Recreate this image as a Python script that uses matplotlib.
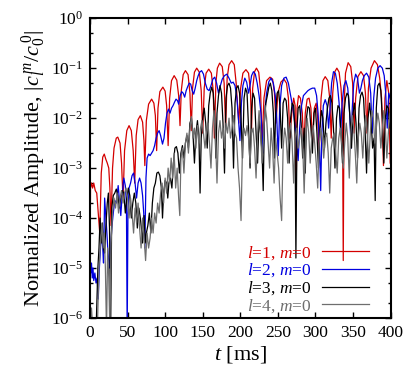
import numpy as np
import matplotlib
matplotlib.use("Agg")
import matplotlib.pyplot as plt
from matplotlib.ticker import LogLocator, FixedLocator, LogFormatterSciNotation

# ---------------- data (time in ms, log10 of normalized amplitude) ----------------
red_t = [0.0, 0.7, 2, 3.5, 5, 7, 9, 11, 13, 15, 17, 19, 21, 23, 25, 26.5, 28, 30, 32, 35, 37, 40, 42, 44,
         46, 49, 52, 55, 57.5, 59.5, 61.5, 64, 67, 70, 71.8, 73, 75, 78, 82, 85, 87, 88.7, 90.5, 93, 97, 100,
         102, 104, 106, 108.5, 112, 115.5, 118, 119.8, 121.5, 124, 127, 130.5, 133, 134.8, 136.5, 139, 142,
         145.5, 148, 150, 152, 154.5, 158, 161.5, 164, 165.5, 167.5, 169.5, 172.5, 176, 178.5, 180.5, 182.5,
         185, 188.5, 192, 194.5, 198, 200.5, 203.5, 207.5, 211, 213.5, 215, 216.5, 219, 221.5, 224.5, 227,
         229, 231.5, 235, 239.5, 243, 245.5, 247.5, 250, 254, 258, 261.5, 264, 266, 268.5, 271, 273, 274.2,
         275.5, 277.5, 280, 282.5, 284.5, 286.5, 289, 291.5, 294, 296, 298.5, 301, 303, 305, 307.5, 310, 313,
         316.5, 319, 321, 323, 325.5, 328.5, 331.5, 334, 336, 337, 338, 340, 343.5, 347, 349.5, 351.5, 353.5,
         356.5, 360.5, 364, 366.5, 368.5, 370.5, 374, 378.5, 382.5, 385.5, 388, 390.5, 392.5, 395, 397.5, 399.5]
red_log = [-4.9, -3.4, -3.3, -3.4, -3.3, -3.45, -3.5, -3.9, -4.3, -3.1, -2.78, -2.72, -2.82, -2.9, -3.0, -3.4,
           -4.15, -3.0, -2.6, -2.4, -2.38, -2.5, -2.9, -3.65, -2.65, -2.25, -2.15, -2.25, -2.65, -3.3, -2.35,
           -2.03, -1.95, -2.08, -2.45, -2.95, -2.05, -1.72, -1.62, -1.7, -1.95, -2.65, -1.8, -1.47, -1.38, -1.46,
           -1.75, -2.55, -1.6, -1.25, -1.15, -1.24, -1.55, -2.15, -1.45, -1.13, -1.05, -1.13, -1.5, -2.25, -1.4,
           -1.08, -1.0, -1.08, -1.45, -2.3, -1.4, -1.1, -1.02, -1.1, -1.45, -2.4, -1.3, -1.0, -0.9, -0.97, -1.3,
           -2.2, -1.2, -0.93, -0.85, -0.93, -1.3, -2.1, -1.4, -1.1, -1.03, -1.1, -1.45, -2.2, -1.4, -1.07, -1.0,
           -1.08, -1.45, -2.5, -1.6, -1.25, -1.18, -1.22, -1.5, -2.1, -1.5, -1.28, -1.22, -1.3, -1.6, -2.4, -1.9,
           -1.6, -1.75, -3.75, -1.8, -1.55, -1.6, -1.9, -2.6, -1.9, -1.62, -1.6, -1.8, -2.5, -1.8, -1.7, -2.0,
           -2.7, -1.6, -1.25, -1.17, -1.25, -1.6, -2.4, -1.5, -1.08, -1.0, -1.08, -1.4, -1.9, -4.85, -1.8, -1.1,
           -0.89, -0.97, -1.3, -2.3, -1.6, -1.17, -1.07, -1.15, -1.5, -2.3, -1.4, -1.0, -0.85, -0.93, -1.2, -1.6,
           -2.95, -1.6, -1.25, -1.5, -2.9]

blue_t = [0, 1, 2, 3, 4, 5, 6.5, 8, 9.5, 11, 12.5, 14, 15.5, 17, 18, 19.5, 21, 22.5, 24, 26, 27.5, 29, 31, 33,
          35, 37.5, 39.5, 41, 43, 45, 47, 48.5, 49.5, 50.5, 52, 54, 56, 58, 60, 62, 64, 66, 68, 70, 71.5, 73,
          74.5, 76, 78, 80, 82, 84, 86, 88, 90, 92, 94, 96.5, 98.5, 100.5, 102.5, 104.5, 106.5, 108.5, 110.5,
          112.5, 114.5, 116.5, 118, 120, 122, 124, 126, 128, 130, 132, 134, 136, 138, 140, 142, 144, 146, 148.5,
          151, 153.5, 156, 158.5, 161, 163.5, 166, 168.5, 171, 173.5, 176, 179, 182, 185, 188, 190.5, 193,
          195.5, 197.5, 199.5, 201.5, 203.5, 206, 208.5, 211, 213, 215, 217.5, 220, 222.5, 225, 227.5, 230.5,
          232.5, 235, 238, 241, 244, 246.5, 248.5, 250.5, 252.5, 255, 258, 261, 264, 267, 270, 272.5, 275, 277,
          279, 281.5, 284, 287, 290, 293, 296, 299, 301.5, 303.5, 305.5, 307, 308.5, 310.5, 313, 315.5, 317.5,
          319.5, 321.5, 324, 326.5, 329, 331.5, 333.5, 335.5, 338, 340.5, 343, 345.5, 347.5, 349, 351, 353.5,
          356, 358.5, 360.5, 362.5, 365, 368, 371, 373.5, 375.5, 377.5, 380, 383, 386, 389, 391.5, 393.5, 395.5,
          397.5, 400]
blue_log = [-4.95, -5.1, -4.9, -5.2, -5.0, -5.25, -5.1, -5.3, -5.2, -5.62, -5.0, -4.6, -4.3, -4.6, -4.9, -3.6,
            -3.95, -4.3, -4.7, -5.0, -4.6, -4.2, -3.9, -3.65, -3.7, -3.35, -3.7, -3.95, -3.5, -3.2, -3.35, -3.7,
            -6.3, -3.9, -3.4, -3.3, -3.15, -3.1, -3.3, -3.6, -3.3, -3.2, -3.3, -3.55, -3.9, -4.6, -3.2, -2.8,
            -2.72, -2.75, -2.7, -2.65, -2.55, -2.4, -2.3, -2.25, -2.35, -2.52, -2.4, -2.1, -1.9, -1.82, -1.9,
            -1.8, -1.75, -1.68, -1.62, -1.65, -1.72, -1.55, -1.47, -1.5, -1.58, -1.45, -1.37, -1.3, -1.32, -1.45,
            -1.52, -1.4, -1.25, -1.15, -1.08, -1.05, -1.12, -1.3, -1.42, -1.45, -1.35, -1.22, -1.18, -1.3, -1.5,
            -1.35, -1.22, -1.15, -1.12, -1.2, -1.3, -1.28, -1.35, -1.6, -2.0, -2.45, -1.7, -1.35, -1.2, -1.28,
            -1.5, -1.35, -1.15, -1.07, -1.12, -1.3, -1.55, -1.9, -2.7, -1.9, -1.5, -1.27, -1.2, -1.3, -1.55, -2.0,
            -2.75, -1.8, -1.35, -1.2, -1.18, -1.3, -1.55, -1.8, -2.1, -2.5, -2.85, -2.2, -1.75, -1.55, -1.5,
            -1.45, -1.42, -1.4, -1.4, -1.55, -1.9, -2.6, -3.45, -2.3, -1.75, -1.63, -1.75, -2.2, -1.8, -1.3,
            -1.07, -1.1, -1.3, -1.7, -2.3, -1.7, -1.35, -1.25, -1.4, -1.9, -2.6, -1.8, -1.3, -1.12, -1.2, -1.5,
            -1.4, -1.25, -1.15, -1.1, -1.18, -1.5, -2.3, -1.6, -1.2, -1.0, -0.95, -1.0, -1.15, -1.5, -2.2, -1.5,
            -1.63]

black_t = [0, 3, 6, 8, 10.5, 12, 13.5, 15, 16.5, 18, 19.5, 21, 23, 24.5, 26, 27.5, 29, 31, 33, 35, 37, 39,
           41, 43, 45, 47, 49, 51, 53, 55, 57, 59, 61, 63, 65, 67, 68.7, 70, 72, 73.5, 75, 77, 79, 81, 83, 85,
           87, 89, 91, 93, 95, 96.5, 98, 100, 102, 103.5, 105, 107, 109, 111, 113, 115, 117, 119, 121, 123,
           125, 127, 129, 131, 133, 135, 137, 139, 141, 143, 145, 146.5, 148, 150, 152, 154, 156, 158, 160,
           162, 164, 166, 167.5, 169, 171, 173, 175, 177, 179, 181, 183, 185, 187, 189, 191, 193, 195, 197,
           199, 201, 203, 205, 207, 209, 211, 213, 215, 217, 219, 221, 223, 225, 227, 229, 230.5, 232, 234,
           236, 238, 240, 242, 244, 245.5, 247, 249, 251, 253, 255, 257, 259, 261, 263, 265, 267, 269, 271,
           272.8, 274, 275.5, 277, 279, 281, 283, 285, 286.5, 288, 290, 292, 294, 296, 298, 300, 302, 304,
           306, 308, 310, 312, 314, 316, 318, 320, 322, 324, 326, 328, 330, 332, 334, 336, 338, 340, 342, 344,
           346, 348, 350, 352, 354, 356, 358, 360, 362, 364, 366, 368, 370, 372, 374, 376, 378, 379.5, 381,
           383, 385, 387, 389, 391, 393, 395, 397, 399, 400]
black_log = [-6.2, -6.3, -6.1, -6.3, -5.0, -4.6, -4.0, -4.5, -4.1, -4.6, -4.7, -4.2, -3.7, -3.5, -4.2, -6.2,
             -3.8, -3.55, -3.5, -3.42, -3.55, -3.8, -3.6, -3.45, -3.5, -3.9, -3.6, -3.4, -3.55, -4.0, -3.7,
             -3.5, -3.7, -4.2, -3.8, -4.0, -4.25, -4.5, -3.95, -4.5, -4.3, -4.15, -3.9, -4.3, -3.7, -3.4, -3.3,
             -3.1, -3.08, -3.15, -3.4, -4.0, -3.5, -3.25, -3.3, -3.6, -3.3, -3.2, -3.4, -2.9, -2.6, -2.57,
             -2.7, -3.1, -2.7, -2.55, -2.8, -2.5, -2.35, -2.6, -2.1, -2.0, -2.3, -2.9, -2.3, -2.05, -2.4, -3.5,
             -2.4, -2.0, -1.8, -2.1, -2.6, -1.75, -1.5, -1.38, -1.5, -2.0, -2.8, -1.9, -1.55, -1.35, -1.5,
             -2.1, -3.1, -1.6, -1.35, -1.3, -1.4, -1.8, -3.0, -1.7, -1.4, -1.35, -1.5, -2.0, -2.8, -1.6, -1.4,
             -1.5, -2.2, -3.0, -1.8, -1.5, -1.6, -2.3, -2.9, -2.0, -2.3, -2.7, -3.45, -2.1, -1.7, -1.55, -1.38,
             -1.3, -1.45, -1.9, -2.8, -1.9, -1.5, -1.45, -1.8, -2.6, -1.7, -1.6, -1.65, -2.0, -2.9, -2.0, -1.7,
             -1.75, -2.3, -4.8, -2.2, -1.8, -1.75, -2.1, -2.8, -2.2, -3.1, -2.0, -1.77, -1.8, -2.2, -2.7, -1.9,
             -1.8, -2.3, -3.0, -2.2, -1.85, -2.0, -2.6, -2.1, -1.8, -1.6, -1.55, -1.7, -2.2, -3.0, -2.0, -1.75,
             -1.8, -2.3, -2.9, -1.9, -1.6, -1.5, -1.55, -2.0, -2.6, -1.9, -1.7, -2.1, -2.8, -1.8, -1.55, -1.48,
             -1.6, -2.2, -3.1, -2.0, -1.7, -2.0, -2.6, -2.4, -3.65, -1.8, -1.35, -1.3, -1.45, -2.0, -2.9, -2.0,
             -1.75, -1.8, -2.2, -2.0]

gray_t = [0, 2, 4, 6, 8, 10, 12, 14, 16, 17.5, 19, 20.5, 22, 23.5, 25, 26.5, 28, 30, 32, 34, 36, 38, 40, 42,
          44, 46, 48, 50, 52, 54, 56, 58, 60, 62, 64, 66, 68, 70, 72, 74, 76, 78, 80, 82, 84, 86, 88, 90, 92,
          94, 96, 98, 100, 102, 104, 106, 108, 110, 112, 114, 116, 118, 119.5, 121, 123, 125, 127, 129, 131,
          133, 135, 137, 139, 141, 143, 145, 147, 149, 151, 153, 155, 157, 159, 161, 163, 165, 167, 169, 171,
          173, 175, 177, 179, 181, 183, 185, 187, 189, 191, 193, 195, 197, 199, 201, 203, 205, 207, 209, 211,
          213, 215, 217, 219, 221, 223, 225, 227, 229, 231, 233, 235, 237, 239, 241, 243, 245, 247, 249, 251,
          253, 255, 257, 259, 261, 263, 265, 267, 269, 271, 273, 275, 277, 279, 281, 283, 285, 287, 289, 291,
          293, 295, 297, 299, 301, 303, 305, 307, 309, 311, 313, 315, 317, 319, 321, 323, 325, 327, 329, 331,
          333, 335, 337, 339, 341, 343, 345, 347, 349, 351, 353, 355, 357, 359, 361, 363, 365, 367, 369, 371,
          373, 375, 377, 379, 381, 383, 385, 387, 389, 391, 393, 395, 397, 399, 400]
gray_log = [-6.3, -5.8, -6.3, -6.2, -6.3, -6.1, -5.0, -4.5, -4.1, -4.6, -4.3, -5.0, -6.3, -4.6, -5.2, -6.3,
            -4.5, -3.9, -3.6, -3.8, -3.5, -3.9, -3.6, -3.45, -3.7, -3.5, -3.4, -3.6, -4.0, -3.6, -3.9, -4.3,
            -3.8, -4.1, -3.7, -4.2, -4.6, -4.0, -4.4, -4.85, -4.3, -4.6, -4.4, -4.0, -4.3, -3.9, -4.1, -3.7,
            -3.9, -3.5, -3.3, -3.7, -3.2, -3.5, -3.0, -3.3, -2.8, -3.2, -2.7, -3.4, -3.0, -3.6, -3.95, -2.8,
            -2.6, -3.1, -2.5, -2.3, -2.7, -2.2, -1.97, -2.4, -2.2, -2.6, -2.15, -2.5, -2.2, -2.05, -2.3, -2.6,
            -2.3, -2.1, -2.5, -3.0, -2.2, -1.85, -2.4, -3.3, -2.3, -2.05, -2.4, -2.2, -2.6, -2.1, -2.3, -2.0,
            -2.4, -2.2, -1.95, -2.3, -2.4, -3.0, -3.4, -4.05, -2.5, -2.2, -2.35, -2.15, -2.4, -2.9, -2.3, -2.2,
            -2.6, -3.2, -2.3, -1.85, -2.3, -2.9, -2.4, -1.75, -2.0, -2.5, -3.0, -2.2, -2.6, -3.3, -2.4, -2.7,
            -3.0, -3.6, -4.05, -2.6, -2.2, -2.4, -2.9, -2.3, -2.1, -2.5, -3.3, -2.4, -2.2, -2.6, -2.4, -2.2,
            -2.5, -3.5, -2.4, -2.0, -2.3, -2.9, -2.4, -2.15, -2.5, -2.9, -3.4, -2.5, -2.2, -2.4, -2.8, -2.4,
            -2.3, -2.7, -3.5, -2.6, -2.4, -2.3, -2.7, -3.1, -2.4, -2.2, -2.5, -3.0, -2.5, -2.1, -2.4, -3.2,
            -2.3, -1.95, -2.2, -2.7, -3.3, -2.4, -2.1, -2.3, -2.8, -2.2, -1.95, -2.3, -2.9, -2.3, -1.85, -2.0,
            -2.5, -2.2, -1.9, -2.1, -2.6, -2.2, -1.85, -2.2, -2.8, -2.3, -1.9, -2.1]

labels = [r"$l$=1, $m$=0", r"$l$=2, $m$=0", r"$l$=3, $m$=0", r"$l$=4, $m$=0"]
colors = ["#d40000", "#0000e0", "#000000", "#6e6e6e"]
x_ticks = [0, 50, 100, 150, 200, 250, 300, 350, 400]

# ---------------- style ----------------
plt.rcParams["font.family"] = ["Liberation Serif", "DejaVu Serif"]
plt.rcParams["mathtext.fontset"] = "custom"
plt.rcParams["mathtext.rm"] = "Liberation Serif"
plt.rcParams["mathtext.it"] = "Liberation Serif:italic"
plt.rcParams["mathtext.bf"] = "Liberation Serif:bold"

fig = plt.figure(figsize=(4.09, 3.79), dpi=100)
ax = fig.add_axes([0.220, 0.161, 0.735, 0.791])

series = [(red_t, red_log), (blue_t, blue_log), (black_t, black_log), (gray_t, gray_log)]
for (t, lg), lab, c in zip(series, labels, colors):
    ax.plot(t, 10.0 ** np.asarray(lg), color=c, lw=0.9, label=lab)

ax.set_yscale("log")
ax.set_xlim(0, 400)
ax.set_ylim(1e-6, 1)
ax.xaxis.set_major_locator(FixedLocator(x_ticks))
ax.yaxis.set_major_locator(LogLocator(base=10, numticks=10))
ax.yaxis.set_minor_locator(LogLocator(base=10, subs=(2.0, 5.0), numticks=10))
ax.yaxis.set_major_formatter(LogFormatterSciNotation())
ax.tick_params(which="both", direction="in", top=True, right=True, labelsize=12.5, width=1.0)
ax.tick_params(which="major", length=4.5, pad=5)
ax.tick_params(which="minor", length=2.5)
for s in ax.spines.values():
    s.set_linewidth(1.5)

ax.set_xlabel(r"$t$ [ms]", fontsize=16, labelpad=2)
ax.set_ylabel(r"Normalized Amplitude, $|c_l^{\,m}/c_0^{\,0}|$", fontsize=16, labelpad=2)

leg = ax.legend(loc="lower right", bbox_to_anchor=(0.967, -0.03), markerfirst=False, frameon=False,
                labelcolor="linecolor", fontsize=12.5, handlelength=2.7, handletextpad=0.6,
                labelspacing=0.0, borderpad=0.2)

fig.savefig("out.png", dpi=100)
